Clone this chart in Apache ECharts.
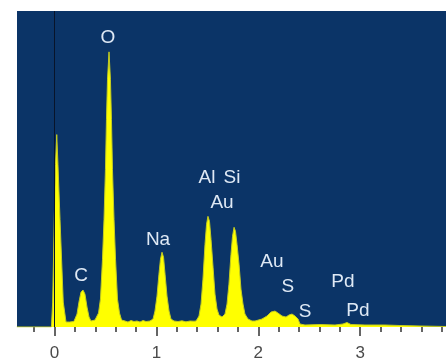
<!DOCTYPE html>
<html>
<head>
<meta charset="utf-8">
<script src="https://cdn.jsdelivr.net/npm/echarts@6/dist/echarts.min.js"></script>
<style>
html,body{margin:0;padding:0;background:#ffffff;}
#chart{width:446px;height:362px;}
</style>
</head>
<body>
<div id="chart"></div>
<script>
// Energy (keV) of spectrum samples
var energyKeV = [-0.37,-0.03,-0.018,-0.002,0.010,0.022,0.034,0.054,0.086,0.113,0.15,0.19,
  0.221,0.240,0.260,0.280,0.299,0.319,0.339,0.358,0.397,
  0.432,0.451,0.471,0.486,0.500,0.510,0.520,0.535,0.549,0.559,0.569,0.584,0.599,0.618,0.638,0.658,
  0.692,0.721,0.751,0.780,0.810,0.839,0.869,0.898,0.937,
  0.967,0.986,1.006,1.025,1.040,1.055,1.070,1.085,1.104,1.124,1.143,1.173,
  1.212,1.251,1.290,1.330,1.369,
  1.389,1.418,1.438,1.457,1.477,1.492,1.506,1.521,1.536,1.556,1.575,1.595,1.614,1.644,
  1.673,1.693,1.712,1.732,1.747,1.762,1.776,1.791,1.811,1.830,1.850,1.869,1.899,1.938,
  1.968,2.036,2.085,2.125,2.164,2.193,2.233,2.272,2.301,2.331,2.360,2.390,2.409,2.458,
  2.606,2.753,2.831,2.870,2.909,3.047,3.243,3.390,3.587,3.842];
// Counts at each energy
var counts = [0,0,250,1080,1630,1930,1630,1080,250,50,50,55,
  130,250,350,370,330,200,100,60,70,
  140,280,680,1080,1580,2080,2480,2760,2480,2080,1580,1080,680,280,140,70,
  60,50,65,55,60,50,65,55,60,
  80,160,310,530,680,750,700,530,310,160,80,60,
  55,62,52,60,58,
  60,110,230,480,830,1030,1110,1060,880,600,330,180,120,100,
  130,230,430,730,910,1000,960,830,630,380,230,130,80,60,
  60,80,110,150,160,140,110,100,120,130,110,80,30,20,
  25,20,30,45,25,20,20,15,10,5];

// Peak annotations
var peakNames  = ["O","C","Na","Al","Si","Au","Au","S","S","Pd","Pd"];
var peakKeV    = [0.525,0.260,1.016,1.497,1.742,1.644,2.134,2.291,2.458,2.831,2.978];
var peakCounts = [2900,510,880,1500,1500,1250,650,400,150,450,160];

// Axis ticks
var majorTicks = [0,1,2,3];
var minorTicks = [-0.2,0.2,0.4,0.6,0.8,1.2,1.4,1.6,1.8,2.2,2.4,2.6,2.8,3.2,3.4,3.6,3.8];
var xMin = -0.368, xMax = 3.842;
var yMax = 3170;

var spectrum = energyKeV.map(function(e,i){ return [e, counts[i]]; });
var marks = peakNames.map(function(n,i){ return {name:n, coord:[peakKeV[i], peakCounts[i]]}; });

var chart = echarts.init(document.getElementById('chart'), null, {renderer:'canvas'});
chart.setOption({
  animation:false,
  grid:{left:17,right:0,top:11,bottom:34,show:true,backgroundColor:'#0b3467',borderWidth:0},
  xAxis:[{
    type:'value',min:xMin,max:xMax,position:'bottom',
    axisLine:{show:false},
    splitLine:{show:false},
    axisTick:{show:true,customValues:majorTicks,length:9,lineStyle:{color:'#333333',width:1.5}},
    axisLabel:{show:true,customValues:majorTicks,margin:18,color:'#4a4a4a',fontSize:17,fontFamily:'Liberation Sans'}
  },{
    type:'value',min:xMin,max:xMax,position:'bottom',
    axisLine:{show:false},
    splitLine:{show:false},
    axisTick:{show:true,customValues:minorTicks,length:5,lineStyle:{color:'#333333',width:1.5}},
    axisLabel:{show:false}
  }],
  yAxis:{type:'value',min:0,max:yMax,show:false,splitLine:{show:false}},
  series:[{
    type:'line',
    xAxisIndex:0,
    data:spectrum,
    showSymbol:false,
    smooth:false,
    lineStyle:{color:'#c4cc20',width:1},
    areaStyle:{color:'#ffff00',opacity:1},
    markLine:{
      silent:true,symbol:['none','none'],
      label:{show:false},
      lineStyle:{color:'#08142a',width:1,type:'solid'},
      data:[{xAxis:0}]
    },
    markPoint:{
      symbol:'circle',symbolSize:0,silent:true,
      label:{show:true,position:'inside',formatter:'{b}',color:'#dfe9f5',fontSize:19,fontFamily:'Liberation Sans'},
      data:marks
    }
  }]
});
</script>
</body>
</html>
